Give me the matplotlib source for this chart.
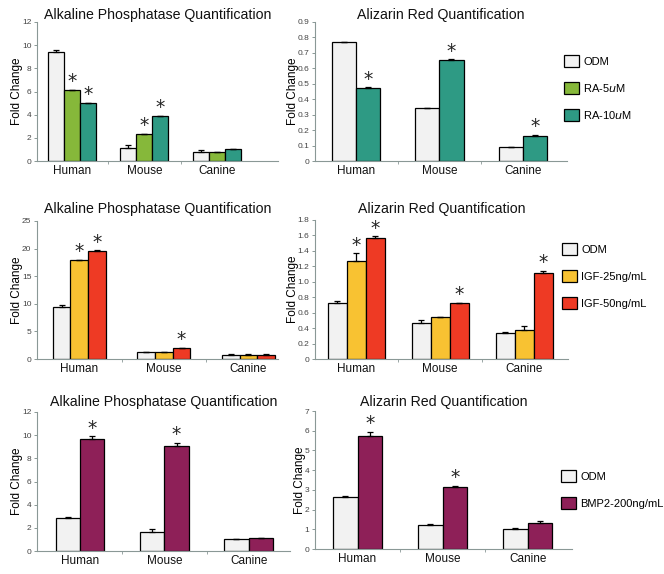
import matplotlib
matplotlib.use("Agg")
import matplotlib.pyplot as plt
from matplotlib.patches import Patch
import numpy as np

plt.rcParams['font.family'] = ['Liberation Sans', 'DejaVu Sans']

species = ["Human", "Mouse", "Canine"]

# row 1: retinoic acid
ra_labels = ["ODM", "RA-5$u$M", "RA-10$u$M"]
ra_alp = [[9.4, 1.1, 0.75], [6.1, 2.3, 0.75], [5.0, 3.85, 1.0]]
ra_alp_err = [[0.2, 0.25, 0.22], [0.05, 0.05, 0.03], [0.05, 0.05, 0.05]]
ra_alp_sig = [[False, False, False], [True, True, False], [True, True, False]]
ra_ars = [[0.77, 0.34, 0.09], [0.475, 0.655, 0.165]]
ra_ars_err = [[0.003, 0.004, 0.003], [0.003, 0.003, 0.003]]
ra_ars_sig = [[False, False, False], [True, True, True]]

# row 2: IGF
igf_labels = ["ODM", "IGF-25ng/mL", "IGF-50ng/mL"]
igf_alp = [[9.5, 1.2, 0.8], [17.9, 1.3, 0.8], [19.6, 2.0, 0.8]]
igf_alp_err = [[0.2, 0.05, 0.03], [0.1, 0.05, 0.03], [0.1, 0.05, 0.03]]
igf_alp_sig = [[False, False, False], [True, False, False], [True, True, False]]
igf_ars = [[0.73, 0.47, 0.34], [1.27, 0.54, 0.38], [1.57, 0.72, 1.12]]
igf_ars_err = [[0.02, 0.03, 0.01], [0.1, 0.01, 0.05], [0.02, 0.01, 0.02]]
igf_ars_sig = [[False, False, False], [True, False, False], [True, True, True]]

# row 3: BMP2
bmp_labels = ["ODM", "BMP2-200ng/mL"]
bmp_alp = [[2.85, 1.6, 1.0], [9.7, 9.1, 1.1]]
bmp_alp_err = [[0.05, 0.3, 0.04], [0.2, 0.25, 0.04]]
bmp_alp_sig = [[False, False, False], [True, True, False]]
bmp_ars = [[2.65, 1.2, 1.0], [5.75, 3.15, 1.32]]
bmp_ars_err = [[0.05, 0.05, 0.04], [0.2, 0.05, 0.1]]
bmp_ars_sig = [[False, False, False], [True, True, False]]

c_odm = "#f2f2f2"
c_ra5 = "#86b83a"
c_ra10 = "#2e9a84"
c_igf25 = "#f8c232"
c_igf50 = "#ee3a24"
c_bmp = "#8e2058"
axis_col = "#8a9896"

W, H = 664, 574
fig = plt.figure(figsize=(W / 100, H / 100), dpi=100)


def px_axes(x0, y0, x1, y1):
    return fig.add_axes([x0 / W, 1 - y1 / H, (x1 - x0) / W, (y1 - y0) / H])


def panel(rect, title, tpad, vals, errs, sigs, colors, width, xlim, ylim, ticks, fmt):
    ax = px_axes(*rect)
    x = np.arange(len(species))
    n = len(vals)
    for i in range(n):
        off = (i - (n - 1) / 2) * width
        ax.bar(x + off, vals[i], width, color=colors[i], edgecolor="black",
               linewidth=0.9, zorder=2)
        ax.errorbar(x + off, vals[i], yerr=[np.zeros(len(x)), errs[i]],
                    fmt="none", ecolor="black", elinewidth=0.9, capsize=2,
                    capthick=0.9, zorder=3)
        for j in range(len(x)):
            if sigs[i][j]:
                ax.annotate("*", (x[j] + off, vals[i][j] + errs[i][j]),
                            xytext=(0, -1), textcoords="offset points",
                            ha="center", va="bottom", fontsize=13.5,
                            family="DejaVu Sans", color="#222222")
    ax.set_xlim(*xlim)
    ax.set_ylim(*ylim)
    ax.set_yticks(ticks)
    ax.set_yticklabels([fmt(t) for t in ticks])
    ax.set_xticks(x)
    ax.set_xticklabels(species, fontsize=8.5)
    ax.set_xticks([0.5, 1.5], minor=True)
    ax.tick_params(axis="x", which="major", length=0, pad=3, colors="#111111")
    ax.tick_params(axis="x", which="minor", length=2, color=axis_col)
    ax.tick_params(axis="y", length=2, width=0.7, color=axis_col,
                   labelsize=6, pad=2, labelcolor="#444444")
    for s in ["top", "right"]:
        ax.spines[s].set_visible(False)
    for s in ["left", "bottom"]:
        ax.spines[s].set_color(axis_col)
        ax.spines[s].set_linewidth(0.8)
    ax.set_title(title, fontsize=10.2, pad=tpad, color="#111111")
    ax.set_ylabel("Fold Change", fontsize=8.5, labelpad=-1)
    return ax


def legend(ax, labels, colors, anchor):
    handles = [Patch(facecolor=c, edgecolor="black", linewidth=0.9) for c in colors]
    ax.legend(handles, labels, loc="upper left", bbox_to_anchor=anchor,
              bbox_transform=fig.transFigure, frameon=False, fontsize=8,
              handlelength=1.35, handleheight=1.35, handletextpad=0.4,
              labelspacing=1.3, borderaxespad=0, borderpad=0)


def fmt_int(t):
    return "%d" % t


def fmt_1(t):
    return "0" if t == 0 else "%.1f" % t


alp1 = panel((37, 22, 278, 161), "Alkaline Phosphatase Quantification", 2,
             ra_alp, ra_alp_err, ra_alp_sig, [c_odm, c_ra5, c_ra10],
             0.22, (-0.48, 2.84), (0, 12), np.arange(0, 13, 2), fmt_int)
ars1 = panel((315, 22, 567, 161), "Alizarin Red Quantification", 2,
             ra_ars, ra_ars_err, ra_ars_sig, [c_odm, c_ra10],
             0.29, (-0.49, 2.53), (0, 0.9), np.round(np.arange(0, 0.91, 0.1), 1), fmt_1)
legend(ars1, ra_labels, [c_odm, c_ra5, c_ra10], (564 / W, 1 - 55 / H))

alp2 = panel((37, 221, 278, 359), "Alkaline Phosphatase Quantification", 5.5,
             igf_alp, igf_alp_err, igf_alp_sig, [c_odm, c_igf25, c_igf50],
             0.21, (-0.5, 2.35), (0, 25), np.arange(0, 26, 5), fmt_int)
ars2 = panel((315, 220, 568, 359), "Alizarin Red Quantification", 5,
             igf_ars, igf_ars_err, igf_ars_sig, [c_odm, c_igf25, c_igf50],
             0.225, (-0.49, 2.52), (0, 1.8), np.round(np.arange(0, 1.81, 0.2), 1), fmt_1)
legend(ars2, igf_labels, [c_odm, c_igf25, c_igf50], (562 / W, 1 - 243 / H))

alp3 = panel((37, 412, 290, 551), "Alkaline Phosphatase Quantification", 4,
             bmp_alp, bmp_alp_err, bmp_alp_sig, [c_odm, c_bmp],
             0.29, (-0.51, 2.49), (0, 12), np.arange(0, 13, 2), fmt_int)
ars3 = panel((315, 411, 572, 549), "Alizarin Red Quantification", 3.5,
             bmp_ars, bmp_ars_err, bmp_ars_sig, [c_odm, c_bmp],
             0.29, (-0.5, 2.52), (0, 7), np.arange(0, 8, 1), fmt_int)
legend(ars3, bmp_labels, [c_odm, c_bmp], (561 / W, 1 - 470 / H))

fig.savefig("out.png", dpi=100)
